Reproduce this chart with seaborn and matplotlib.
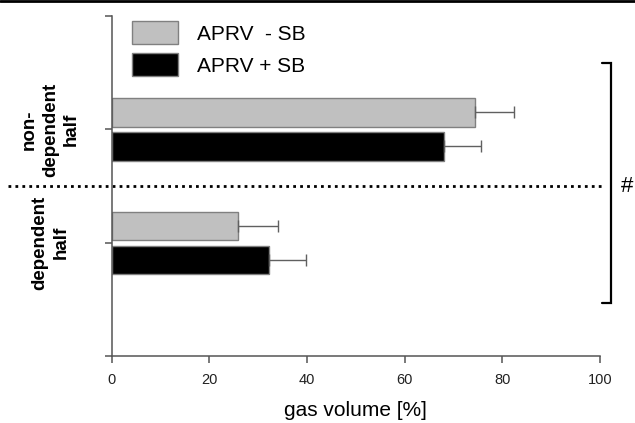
import matplotlib
matplotlib.use("Agg")
import matplotlib.pyplot as plt
from matplotlib.lines import Line2D
import numpy as np
import pandas as pd
import seaborn as sns

# Data
regions = ["non-\ndependent\nhalf", "dependent\nhalf"]
groups = ["APRV  - SB", "APRV + SB"]
mean_minus_sb = [74.4, 25.8]
mean_plus_sb = [68.0, 32.1]
sd_minus_sb = [8.0, 8.2]
sd_plus_sb = [7.6, 7.6]
x_ticks = [0, 20, 40, 60, 80, 100]

df = pd.DataFrame({
    "region": regions * 2,
    "group": [groups[0]] * 2 + [groups[1]] * 2,
    "value": mean_minus_sb + mean_plus_sb,
})
sds = [sd_minus_sb, sd_plus_sb]

sns.set_style("ticks")
plt.rcParams["font.family"] = ["Liberation Sans", "DejaVu Sans"]
plt.rcParams["text.color"] = "black"
plt.rcParams["xtick.labelcolor"] = "#222222"
plt.rcParams["ytick.labelcolor"] = "black"
plt.rcParams["axes.labelcolor"] = "black"

fig = plt.figure(figsize=(6.35, 4.23), dpi=100)
ax = fig.add_axes([0.176, 0.158, 0.769, 0.804])

sns.barplot(data=df, y="region", x="value", hue="group", order=regions,
            hue_order=groups, palette=["#c0c0c0", "#000000"], orient="h",
            width=0.6, gap=0.17, errorbar=None, edgecolor="#808080",
            linewidth=1, ax=ax)

# one-sided error bars
for cont, sd in zip(ax.containers, sds):
    ys = [b.get_y() + b.get_height() / 2 for b in cont]
    xs = [b.get_width() for b in cont]
    ax.errorbar(xs, ys, xerr=[np.zeros(len(sd)), sd], fmt="none",
                ecolor="#606060", elinewidth=1, capsize=4.3, capthick=1)

ax.set_xlim(0, 100)
ax.set_ylim(2, -1)
ax.set_xticks(x_ticks)
ax.set_yticks([-1, 0, 1, 2])
ax.set_yticklabels([""] + regions + [""])
ax.tick_params(axis="x", labelsize=10.5, length=5, width=1.1, color="#555555", pad=7)
ax.tick_params(axis="y", length=5, width=1.1, color="#555555", pad=39)
for lab in ax.get_yticklabels():
    lab.set_rotation(90)
    lab.set_ha("center")
    lab.set_va("center")
    lab.set_multialignment("center")
    lab.set_fontweight("bold")
    lab.set_fontsize(13.5)
    lab.set_linespacing(1.3)

ax.set_xlabel("gas volume [%]", fontsize=15, labelpad=10)
ax.set_ylabel("")
for s in ["top", "right"]:
    ax.spines[s].set_visible(False)
for s in ["left", "bottom"]:
    ax.spines[s].set_color("#555555")
    ax.spines[s].set_linewidth(1.1)

handles, labels = ax.get_legend_handles_labels()
ax.legend(handles, labels, loc="upper left", bbox_to_anchor=(0.041, 0.985),
          frameon=False, fontsize=15, handlelength=2.2, handleheight=1.3,
          handletextpad=0.95, labelspacing=0.45, borderpad=0, borderaxespad=0)

# dotted separator between halves
ax.axhline(0.5, xmin=-0.213, xmax=1.006, color="black", linestyle=(0, (1, 1.5)),
           linewidth=2, clip_on=False)

# significance bracket
bx = 102.2
ax.plot([bx - 1.8, bx, bx, bx - 1.8], [-0.585, -0.585, 1.53, 1.53],
        color="black", linewidth=1.6, clip_on=False, solid_joinstyle="miter")
ax.text(104.3, 0.5, "#", fontsize=16, ha="left", va="center", clip_on=False)

# frame line at the very top of the image
fig.add_artist(Line2D([0, 1], [0.997, 0.997], color="black", linewidth=2))

fig.savefig("out.png", dpi=100)
